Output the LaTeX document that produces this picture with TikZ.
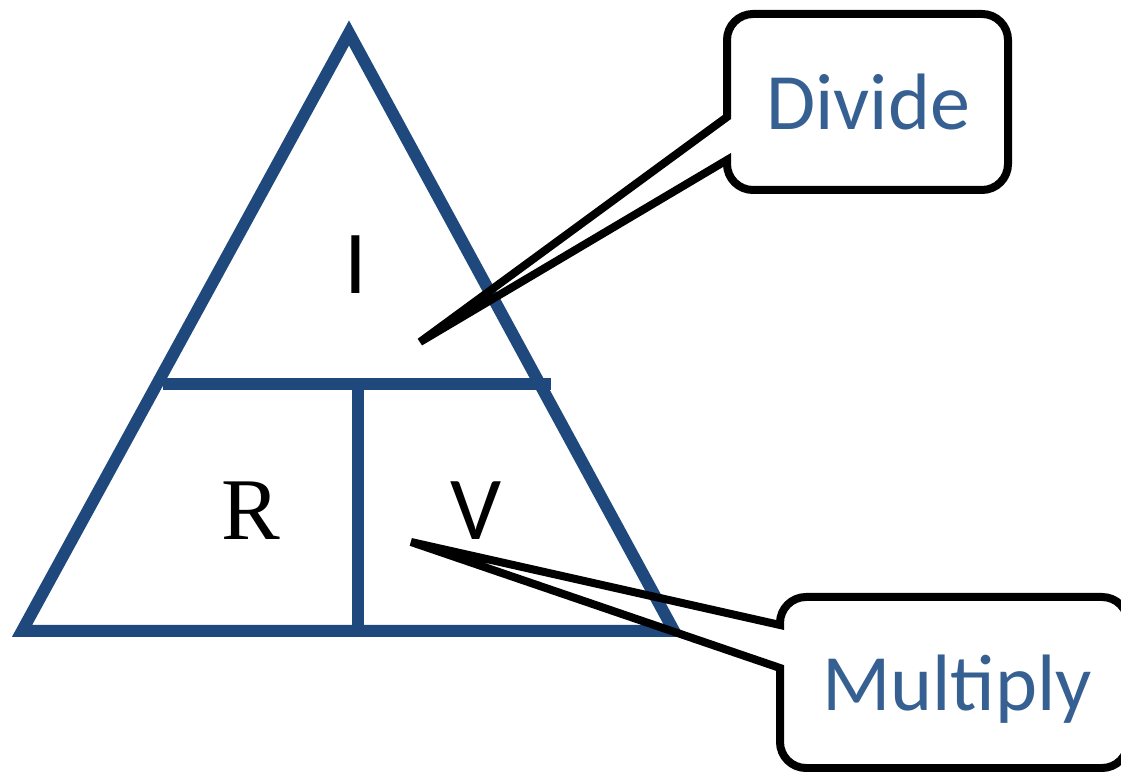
\documentclass[tikz,border=0pt]{standalone}
\usepackage{fontspec}
\setmainfont{Carlito}
\newfontfamily\serifR{Liberation Serif}
\definecolor{triblue}{RGB}{31,73,125}
\definecolor{txtblue}{RGB}{54,96,146}
\tikzset{
  triline/.style={draw=triblue, line width=12pt, line join=miter},
  callout/.style={draw=black, line width=8pt, line join=miter, fill=none},
  bigletter/.style={anchor=base, inner sep=0pt, text=black, font=\fontsize{90}{90}\selectfont},
  calltext/.style={anchor=base, inner sep=0pt, text=txtblue, font=\fontsize{80}{80}\selectfont}
}
\begin{document}
\begin{tikzpicture}[x=1pt,y=1pt]
\useasboundingbox (0,0) rectangle (1121,771);
\clip (0,0) rectangle (1121,771);
% triangle
\coordinate (apex) at (349,738);
\coordinate (bl) at (22,140);
\coordinate (br) at (674,140);
\coordinate (hl) at (163,387);
\coordinate (hr) at (551,387);
\coordinate (vt) at (357.5,387);
\coordinate (vb) at (357.5,140);
\draw[triline] (apex) -- (br) -- (bl) -- cycle;
\draw[triline] (hl) -- (hr);
\draw[triline] (vt) -- (vb);
% letters
\node[bigletter] (I) at (355.5,477) {I};
\node[bigletter, font=\serifR\fontsize{88}{88}\selectfont] (R) at (251,231) {R};
\node[bigletter] (V) at (476,231) {V};
% Divide callout
\coordinate (dtip) at (420,429);
\draw[callout] (727,654) -- (727,731) arc[start angle=180, end angle=90, radius=26]
  -- (982,757) arc[start angle=90, end angle=0, radius=26]
  -- (1008,607) arc[start angle=0, end angle=-90, radius=26]
  -- (753,581) arc[start angle=270, end angle=180, radius=26]
  -- (727,611) -- (dtip) -- cycle;
\node[calltext] (divide) at (868,641) {Divide};
% Multiply callout
\coordinate (mtip) at (411,229);
\draw[callout] (780,146) -- (780,148) arc[start angle=180, end angle=90, radius=26]
  -- (1102,174) arc[start angle=90, end angle=0, radius=26]
  -- (1128,29) arc[start angle=0, end angle=-90, radius=26]
  -- (806,3) arc[start angle=270, end angle=180, radius=26]
  -- (780,103) -- (mtip) -- cycle;
\node[calltext] (multiply) at (957,61) {Multiply};
\end{tikzpicture}
\end{document}
